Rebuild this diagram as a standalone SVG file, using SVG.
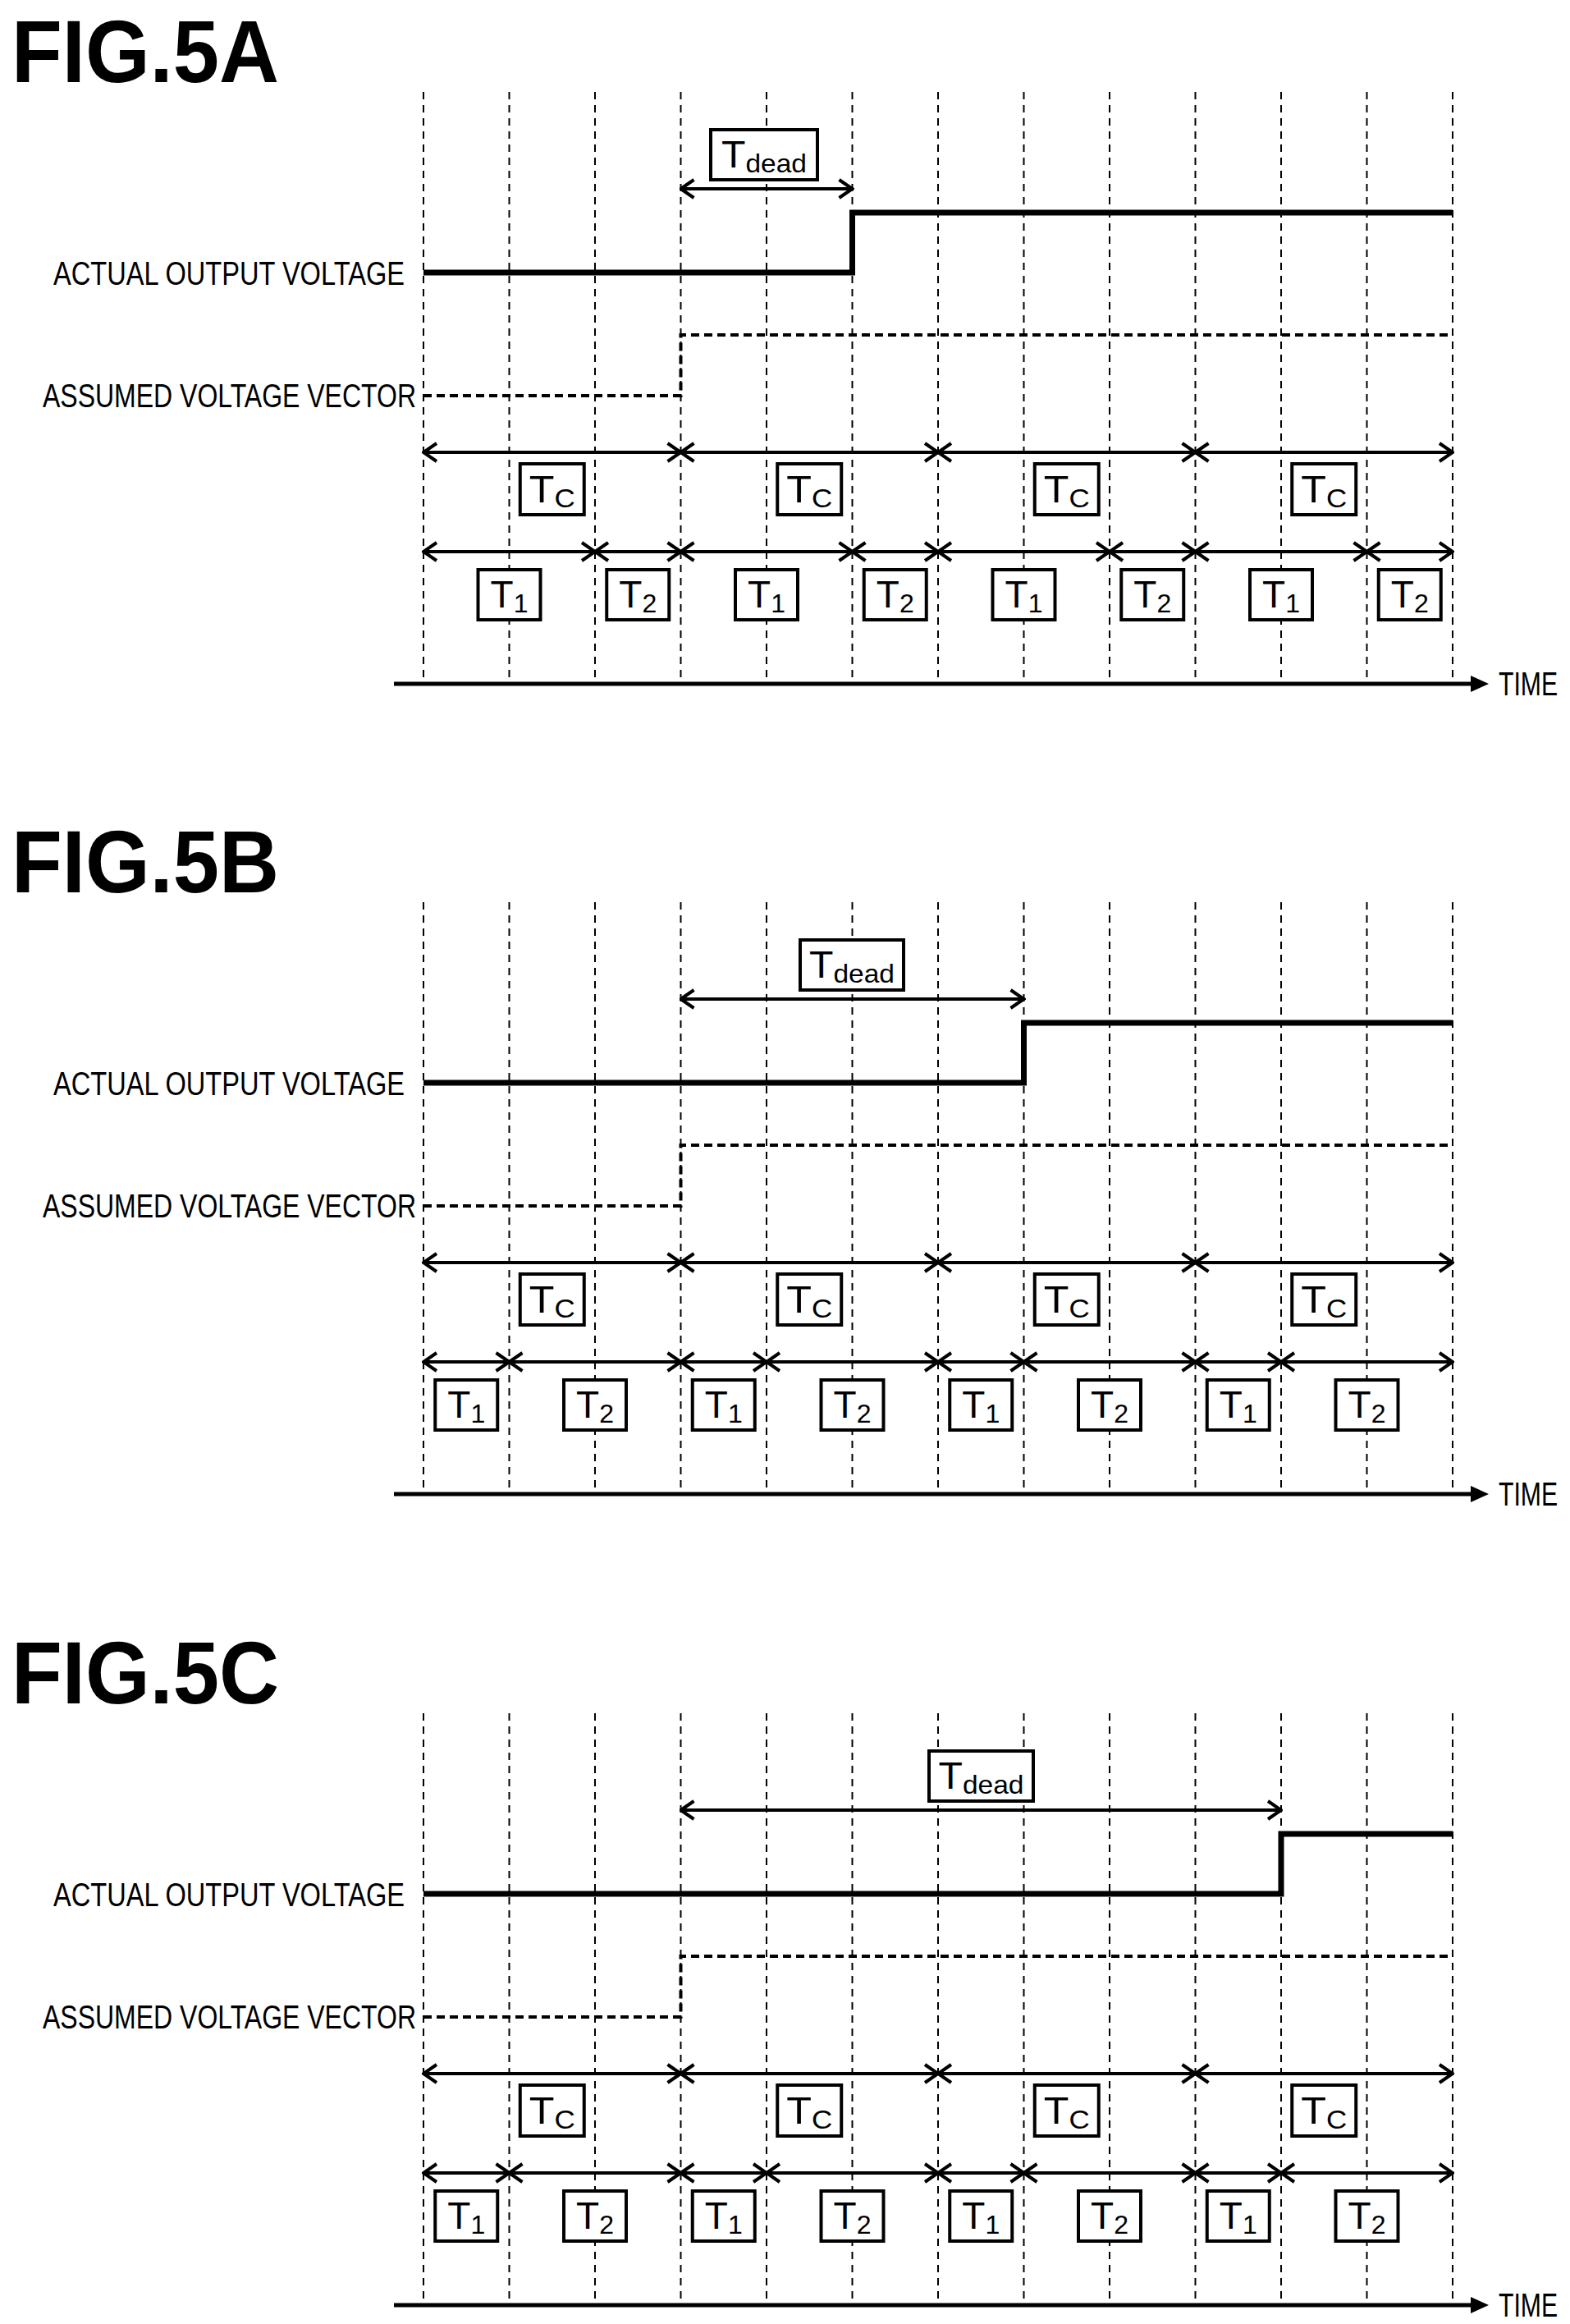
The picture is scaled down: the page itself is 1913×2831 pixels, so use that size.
<svg xmlns="http://www.w3.org/2000/svg" width="1913" height="2831" viewBox="0 0 1913 2831">
<style>
.title{font-family:"Liberation Sans",Arial,sans-serif;font-weight:bold;font-size:108px}
.lbl{font-family:"Liberation Sans",Arial,sans-serif;font-size:40px}
.bt{font-family:"Liberation Sans",Arial,sans-serif;font-size:46px;text-anchor:middle}
.sub{font-size:32px}
.grid{stroke:#000;stroke-width:2;stroke-dasharray:9 7}
.act{stroke:#000;stroke-width:7;fill:none}
.asm{stroke:#000;stroke-width:4;fill:none;stroke-dasharray:10 6}
.box{fill:#fff;stroke:#000;stroke-width:4}
.arr{stroke:#000;stroke-width:4;marker-start:url(#ch);marker-end:url(#ch)}
.ax{stroke:#000;stroke-width:5;marker-end:url(#tri)}
</style>
<defs>
<marker id="ch" markerUnits="userSpaceOnUse" viewBox="-18 -13 20 26" refX="0" refY="0" markerWidth="20" markerHeight="26" orient="auto-start-reverse"><path d="M-16 -11 L0 0 L-16 11" fill="none" stroke="#000" stroke-width="4"/></marker>
<marker id="tri" markerUnits="userSpaceOnUse" viewBox="0 -10 22 20" refX="2" refY="0" markerWidth="22" markerHeight="20" orient="auto"><path d="M0 -10 L22 0 L0 10 Z" fill="#000"/></marker>
<g id="gridlines">
<path class="grid" d="M516 112V833M620.5 112V833M725 112V833M829.5 112V833M934 112V833M1038.5 112V833M1143 112V833M1247.5 112V833M1352 112V833M1456.5 112V833M1561 112V833M1665.5 112V833M1770 112V833"/>
</g>
<g id="common">
<text class="lbl" x="493" y="347" text-anchor="end" textLength="428" lengthAdjust="spacingAndGlyphs">ACTUAL OUTPUT VOLTAGE</text>
<text class="lbl" x="507" y="496" text-anchor="end" textLength="455" lengthAdjust="spacingAndGlyphs">ASSUMED VOLTAGE VECTOR</text>
<path class="asm" d="M516 482H829.5V408H1770"/>
<g class="arr"><line x1="516" y1="551" x2="829.5" y2="551"/><line x1="829.5" y1="551" x2="1143" y2="551"/><line x1="1143" y1="551" x2="1456.5" y2="551"/><line x1="1456.5" y1="551" x2="1770" y2="551"/></g>
<g class="box"><rect x="633.75" y="565" width="78" height="62"/><rect x="947.25" y="565" width="78" height="62"/><rect x="1260.75" y="565" width="78" height="62"/><rect x="1574.25" y="565" width="78" height="62"/></g>
<text class="bt" x="672.75" y="612" textLength="56" lengthAdjust="spacingAndGlyphs">T<tspan class="sub" dy="6">C</tspan></text>
<text class="bt" x="986.25" y="612" textLength="56" lengthAdjust="spacingAndGlyphs">T<tspan class="sub" dy="6">C</tspan></text>
<text class="bt" x="1299.75" y="612" textLength="56" lengthAdjust="spacingAndGlyphs">T<tspan class="sub" dy="6">C</tspan></text>
<text class="bt" x="1613.25" y="612" textLength="56" lengthAdjust="spacingAndGlyphs">T<tspan class="sub" dy="6">C</tspan></text>
<line class="ax" x1="480" y1="833" x2="1794" y2="833"/>
<text class="lbl" x="1826" y="847" textLength="72" lengthAdjust="spacingAndGlyphs">TIME</text>
</g>
</defs>

<g id="fig5A">
<text class="title" x="14" y="100" textLength="326" lengthAdjust="spacingAndGlyphs">FIG.5A</text>
<use href="#gridlines"/>
<use href="#common"/>
<path class="act" d="M516 332H1038.5V259H1770"/>
<rect class="box" x="866" y="158" width="130" height="61"/>
<text class="bt" x="931" y="204" textLength="104" lengthAdjust="spacingAndGlyphs">T<tspan class="sub" dy="6">dead</tspan></text>
<line class="arr" x1="829.5" y1="230" x2="1038.5" y2="230"/>
<g class="arr">
<line x1="516" y1="672" x2="725" y2="672"/><line x1="725" y1="672" x2="829.5" y2="672"/>
<line x1="829.5" y1="672" x2="1038.5" y2="672"/><line x1="1038.5" y1="672" x2="1143" y2="672"/>
<line x1="1143" y1="672" x2="1352" y2="672"/><line x1="1352" y1="672" x2="1456.5" y2="672"/>
<line x1="1456.5" y1="672" x2="1665.5" y2="672"/><line x1="1665.5" y1="672" x2="1770" y2="672"/>
</g>
<g class="box"><rect x="582.5" y="694" width="76" height="61"/><rect x="739.25" y="694" width="76" height="61"/><rect x="896" y="694" width="76" height="61"/><rect x="1052.75" y="694" width="76" height="61"/><rect x="1209.5" y="694" width="76" height="61"/><rect x="1366.25" y="694" width="76" height="61"/><rect x="1523" y="694" width="76" height="61"/><rect x="1679.75" y="694" width="76" height="61"/></g>
<text class="bt" x="620.5" y="740">T<tspan class="sub" dy="6">1</tspan></text>
<text class="bt" x="777.25" y="740">T<tspan class="sub" dy="6">2</tspan></text>
<text class="bt" x="934" y="740">T<tspan class="sub" dy="6">1</tspan></text>
<text class="bt" x="1090.75" y="740">T<tspan class="sub" dy="6">2</tspan></text>
<text class="bt" x="1247.5" y="740">T<tspan class="sub" dy="6">1</tspan></text>
<text class="bt" x="1404.25" y="740">T<tspan class="sub" dy="6">2</tspan></text>
<text class="bt" x="1561" y="740">T<tspan class="sub" dy="6">1</tspan></text>
<text class="bt" x="1717.75" y="740">T<tspan class="sub" dy="6">2</tspan></text>
</g>

<g id="fig5B" transform="translate(0 987)">
<text class="title" x="14" y="100" textLength="326" lengthAdjust="spacingAndGlyphs">FIG.5B</text>
<use href="#gridlines"/>
<use href="#common"/>
<path class="act" d="M516 332H1247.5V259H1770"/>
<rect class="box" x="975" y="158" width="126" height="61"/>
<text class="bt" x="1038" y="204" textLength="104" lengthAdjust="spacingAndGlyphs">T<tspan class="sub" dy="6">dead</tspan></text>
<line class="arr" x1="829.5" y1="230" x2="1247.5" y2="230"/>
<g id="trowB" class="arr">
<line x1="516" y1="672" x2="620.5" y2="672"/><line x1="620.5" y1="672" x2="829.5" y2="672"/>
<line x1="829.5" y1="672" x2="934" y2="672"/><line x1="934" y1="672" x2="1143" y2="672"/>
<line x1="1143" y1="672" x2="1247.5" y2="672"/><line x1="1247.5" y1="672" x2="1456.5" y2="672"/>
<line x1="1456.5" y1="672" x2="1561" y2="672"/><line x1="1561" y1="672" x2="1770" y2="672"/>
</g>
<g id="tboxB">
<g class="box"><rect x="530.25" y="694" width="76" height="61"/><rect x="687" y="694" width="76" height="61"/><rect x="843.75" y="694" width="76" height="61"/><rect x="1000.5" y="694" width="76" height="61"/><rect x="1157.25" y="694" width="76" height="61"/><rect x="1314" y="694" width="76" height="61"/><rect x="1470.75" y="694" width="76" height="61"/><rect x="1627.5" y="694" width="76" height="61"/></g>
<text class="bt" x="568.25" y="740">T<tspan class="sub" dy="6">1</tspan></text>
<text class="bt" x="725" y="740">T<tspan class="sub" dy="6">2</tspan></text>
<text class="bt" x="881.75" y="740">T<tspan class="sub" dy="6">1</tspan></text>
<text class="bt" x="1038.5" y="740">T<tspan class="sub" dy="6">2</tspan></text>
<text class="bt" x="1195.25" y="740">T<tspan class="sub" dy="6">1</tspan></text>
<text class="bt" x="1352" y="740">T<tspan class="sub" dy="6">2</tspan></text>
<text class="bt" x="1508.75" y="740">T<tspan class="sub" dy="6">1</tspan></text>
<text class="bt" x="1665.5" y="740">T<tspan class="sub" dy="6">2</tspan></text>
</g>
</g>

<g id="fig5C" transform="translate(0 1975)">
<text class="title" x="14" y="100" textLength="326" lengthAdjust="spacingAndGlyphs">FIG.5C</text>
<use href="#gridlines"/>
<use href="#common"/>
<path class="act" d="M516 332H1561V259H1770"/>
<rect class="box" x="1132" y="158" width="127" height="61"/>
<text class="bt" x="1195.5" y="204" textLength="104" lengthAdjust="spacingAndGlyphs">T<tspan class="sub" dy="6">dead</tspan></text>
<line class="arr" x1="829.5" y1="230" x2="1561" y2="230"/>
<use href="#trowB"/>
<use href="#tboxB"/>
</g>
</svg>
